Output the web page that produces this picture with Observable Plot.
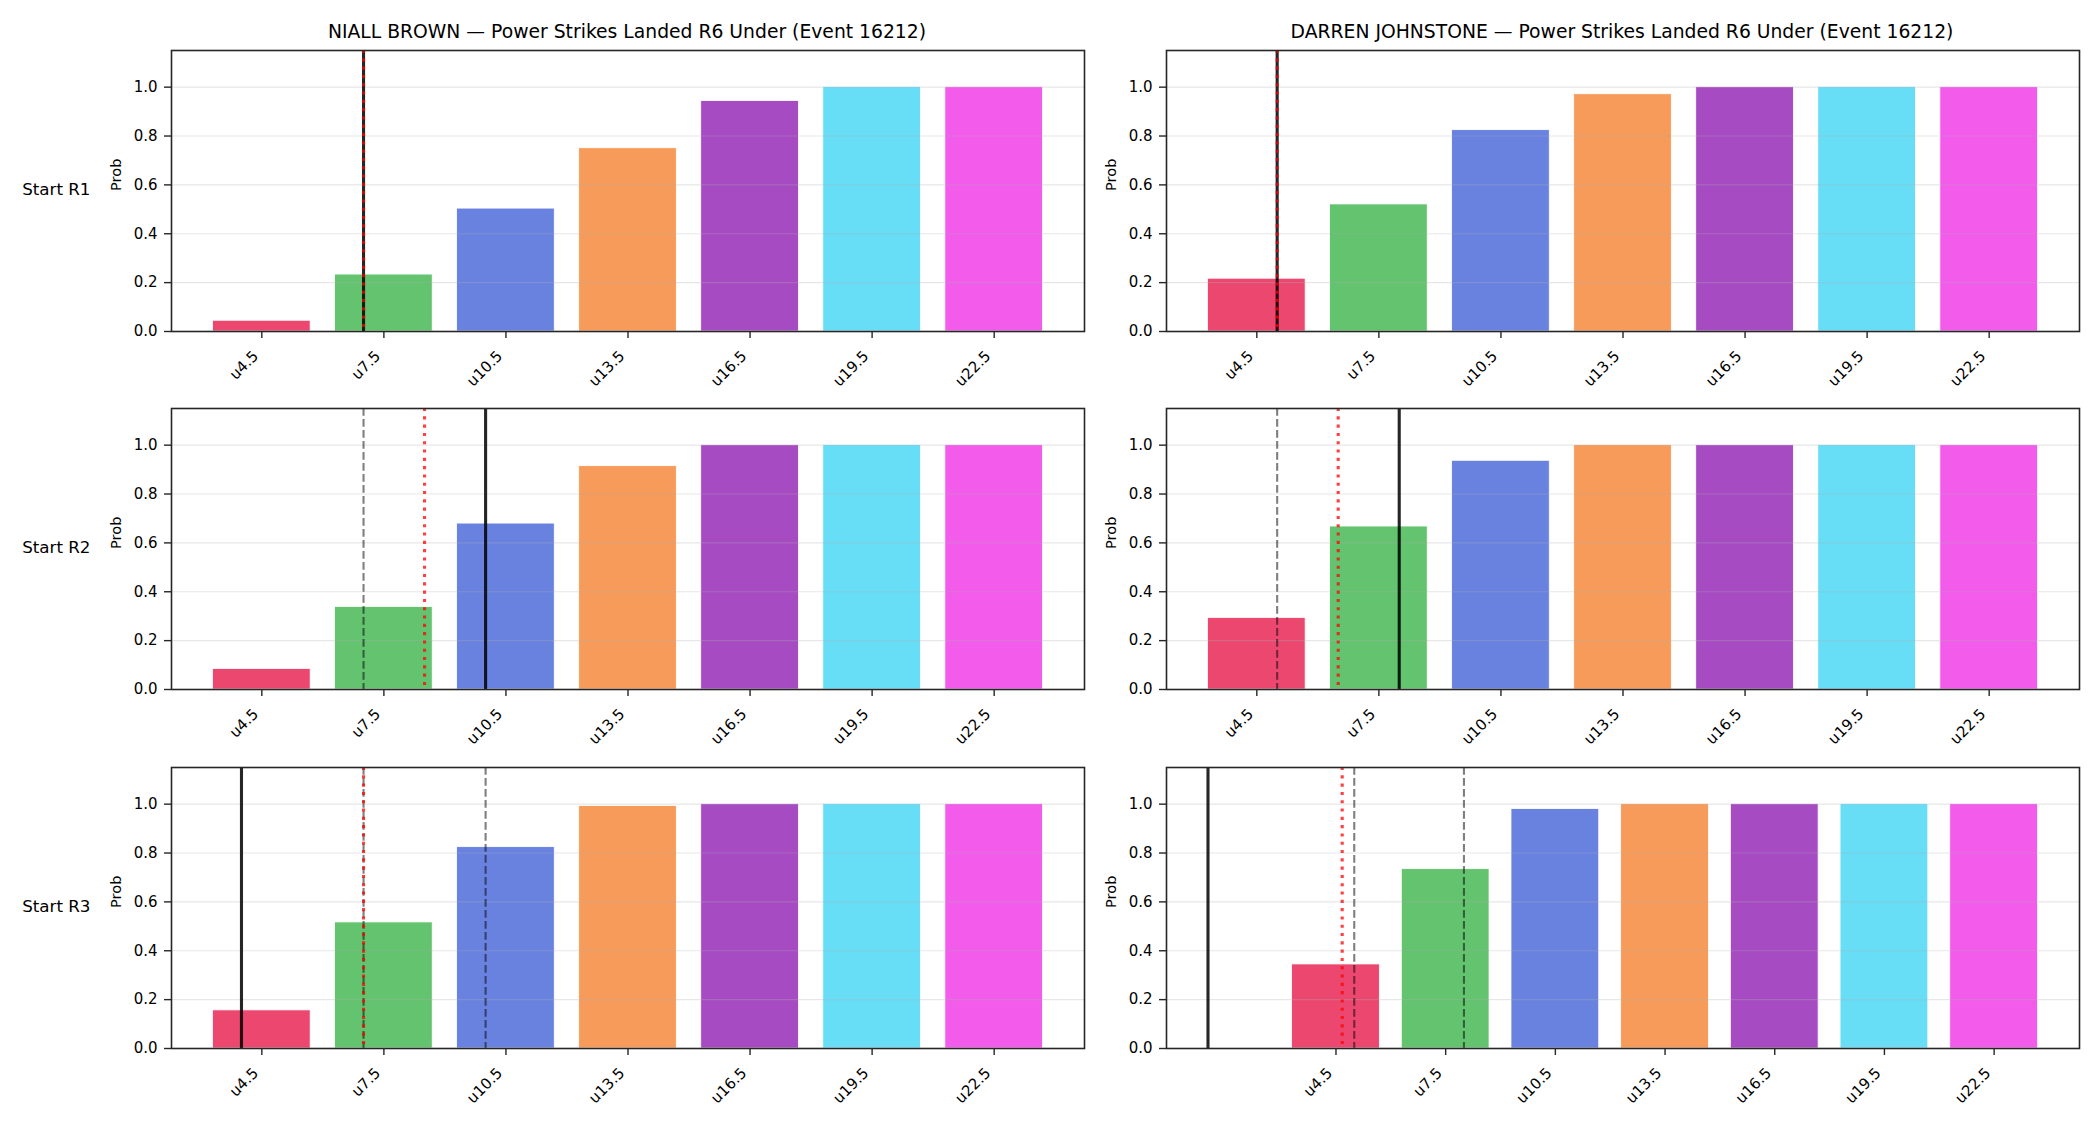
<!DOCTYPE html>
<html><head><meta charset="utf-8">
<script src="https://cdn.jsdelivr.net/npm/d3@7"></script>
<script src="https://cdn.jsdelivr.net/npm/@observablehq/plot@0.6"></script>
<style>
html,body{margin:0;padding:0;background:#fff;}
#chart{position:relative;width:2100px;height:1125px;background:#fff;font-family:"DejaVu Sans",sans-serif;overflow:hidden;}
#chart .panel{position:absolute;}
#overlay{position:absolute;left:0;top:0;pointer-events:none;}
</style></head><body><div id="chart"></div>
<script>
// ---- data ----
const thresholds = [4.5, 7.5, 10.5, 13.5, 16.5, 19.5, 22.5];
const tickLabels = ["u4.5", "u7.5", "u10.5", "u13.5", "u16.5", "u19.5", "u22.5"];
const barColors = ["#e6194b", "#3cb44b", "#4363d8", "#f58231", "#911eb4", "#42d4f4", "#f032e6"];
const yTicks = [0, 0.2, 0.4, 0.6, 0.8, 1.0];
const fighters = ["NIALL BROWN", "DARREN JOHNSTONE"];
const titleSuffix = " — Power Strikes Landed R6 Under (Event 16212)";
const rowLabels = ["Start R1", "Start R2", "Start R3"];

const niallR1 = [0.044, 0.233, 0.503, 0.75, 0.943, 1.0, 1.0];
const niallR2 = [0.084, 0.338, 0.679, 0.914, 1.0, 1.0, 1.0];
const niallR3 = [0.156, 0.516, 0.824, 0.992, 1.0, 1.0, 1.0];
const darrenR1 = [0.216, 0.52, 0.824, 0.971, 1.0, 1.0, 1.0];
const darrenR2 = [0.293, 0.667, 0.936, 1.0, 1.0, 1.0, 1.0];
const darrenR3 = [0.344, 0.734, 0.98, 1.0, 1.0, 1.0, 1.0];

const niallLine = [7, 10, 4];
const niallAvg = [7, 8.5, 7];
const niallPrev = [[], [7], [7, 10]];
const darrenLine = [5, 8, 1];
const darrenAvg = [5, 6.5, 4.67];
const darrenPrev = [[], [5], [5, 8]];

const probs = [[niallR1, niallR2, niallR3], [darrenR1, darrenR2, darrenR3]];
const lines = [niallLine, darrenLine];
const avgs = [niallAvg, darrenAvg];
const prevs = [niallPrev, darrenPrev];

// ---- layout ----
const FW = 913, FH = 281;
const colLeft = [170.5, 1165.5];
const rowTop = [50, 408, 766.5];
const ML = 100, MR = 10, MT = 10, MB = 80;
const halfBar = 1.2; // 0.8 of the category spacing (3)

function panel(pr, line, avg, prev) {
  const bars = thresholds.map((t, i) => ({t, label: tickLabels[i], p: pr[i], c: barColors[i]}));
  const ext = [thresholds[0] - halfBar, thresholds[thresholds.length - 1] + halfBar, line, avg, ...prev];
  const lo = d3.min(ext), hi = d3.max(ext), pad = (hi - lo) * 0.05;
  return Plot.plot({
    width: FW + ML + MR, height: FH + MT + MB,
    marginLeft: ML, marginRight: MR, marginTop: MT, marginBottom: MB,
    style: {background: "transparent", overflow: "visible", fontFamily: "DejaVu Sans", color: "#000"},
    x: {domain: [lo - pad, hi + pad]},
    y: {domain: [0, 1.15]},
    color: {type: "identity"},
    marks: [
      Plot.rectY(bars, {x1: d => d.t - halfBar, x2: d => d.t + halfBar, y: "p", fill: "c", fillOpacity: 0.8, stroke: "white", strokeWidth: 0.8}),
      Plot.gridY(yTicks, {stroke: "#b0b0b0", strokeOpacity: 0.3, strokeWidth: 1.1}),
      Plot.ruleX(prev, {stroke: "black", strokeOpacity: 0.5, strokeWidth: 2.1, strokeDasharray: "7.7,3.3"}),
      Plot.ruleX([line], {stroke: "black", strokeOpacity: 0.85, strokeWidth: 3.1}),
      Plot.ruleX([avg], {stroke: "red", strokeOpacity: 0.75, strokeWidth: 3.1, strokeDasharray: "3.1,5.2"}),
      Plot.axisY({ticks: yTicks, tickFormat: d3.format(".1f"), tickSize: 7, tickPadding: 7, fontSize: 15, label: null, stroke: "#262626", strokeWidth: 1.4}),
      Plot.axisX({ticks: thresholds, tickSize: 7, tickFormat: () => null, label: null, stroke: "#262626", strokeWidth: 1.4}),
      Plot.text(bars, {x: "t", text: "label", frameAnchor: "bottom", rotate: -45, textAnchor: "end", lineAnchor: "middle", dx: -6, dy: 22, fontSize: 15, fill: "#000"}),
      Plot.text(["Prob"], {frameAnchor: "left", rotate: -90, dx: -55, fontSize: 14.6, fill: "#000"}),
      Plot.frame({stroke: "#262626", strokeWidth: 1.6})
    ]
  });
}

const chart = document.getElementById("chart");
for (let c = 0; c < 2; c++) {
  for (let r = 0; r < 3; r++) {
    const svg = panel(probs[c][r], lines[c][r], avgs[c][r], prevs[c][r]);
    svg.classList.add("panel");
    svg.style.left = (colLeft[c] - ML) + "px";
    svg.style.top = (rowTop[r] - MT) + "px";
    chart.appendChild(svg);
  }
}

// titles and row labels
const ov = d3.select(chart).append("svg").attr("id", "overlay")
  .attr("width", 2100).attr("height", 1125)
  .style("font-family", "DejaVu Sans");
fighters.forEach((f, c) => {
  ov.append("text")
    .attr("x", colLeft[c] + FW / 2).attr("y", rowTop[0] - 12.5)
    .attr("text-anchor", "middle").attr("font-size", 18.75).attr("fill", "#000")
    .text(f + titleSuffix);
});
rowLabels.forEach((lab, r) => {
  ov.append("text")
    .attr("x", 22.2).attr("y", rowTop[r] + FH / 2 + 4.5)
    .attr("text-anchor", "start").attr("font-size", 16.7).attr("fill", "#000")
    .text(lab);
});
</script></body></html>
